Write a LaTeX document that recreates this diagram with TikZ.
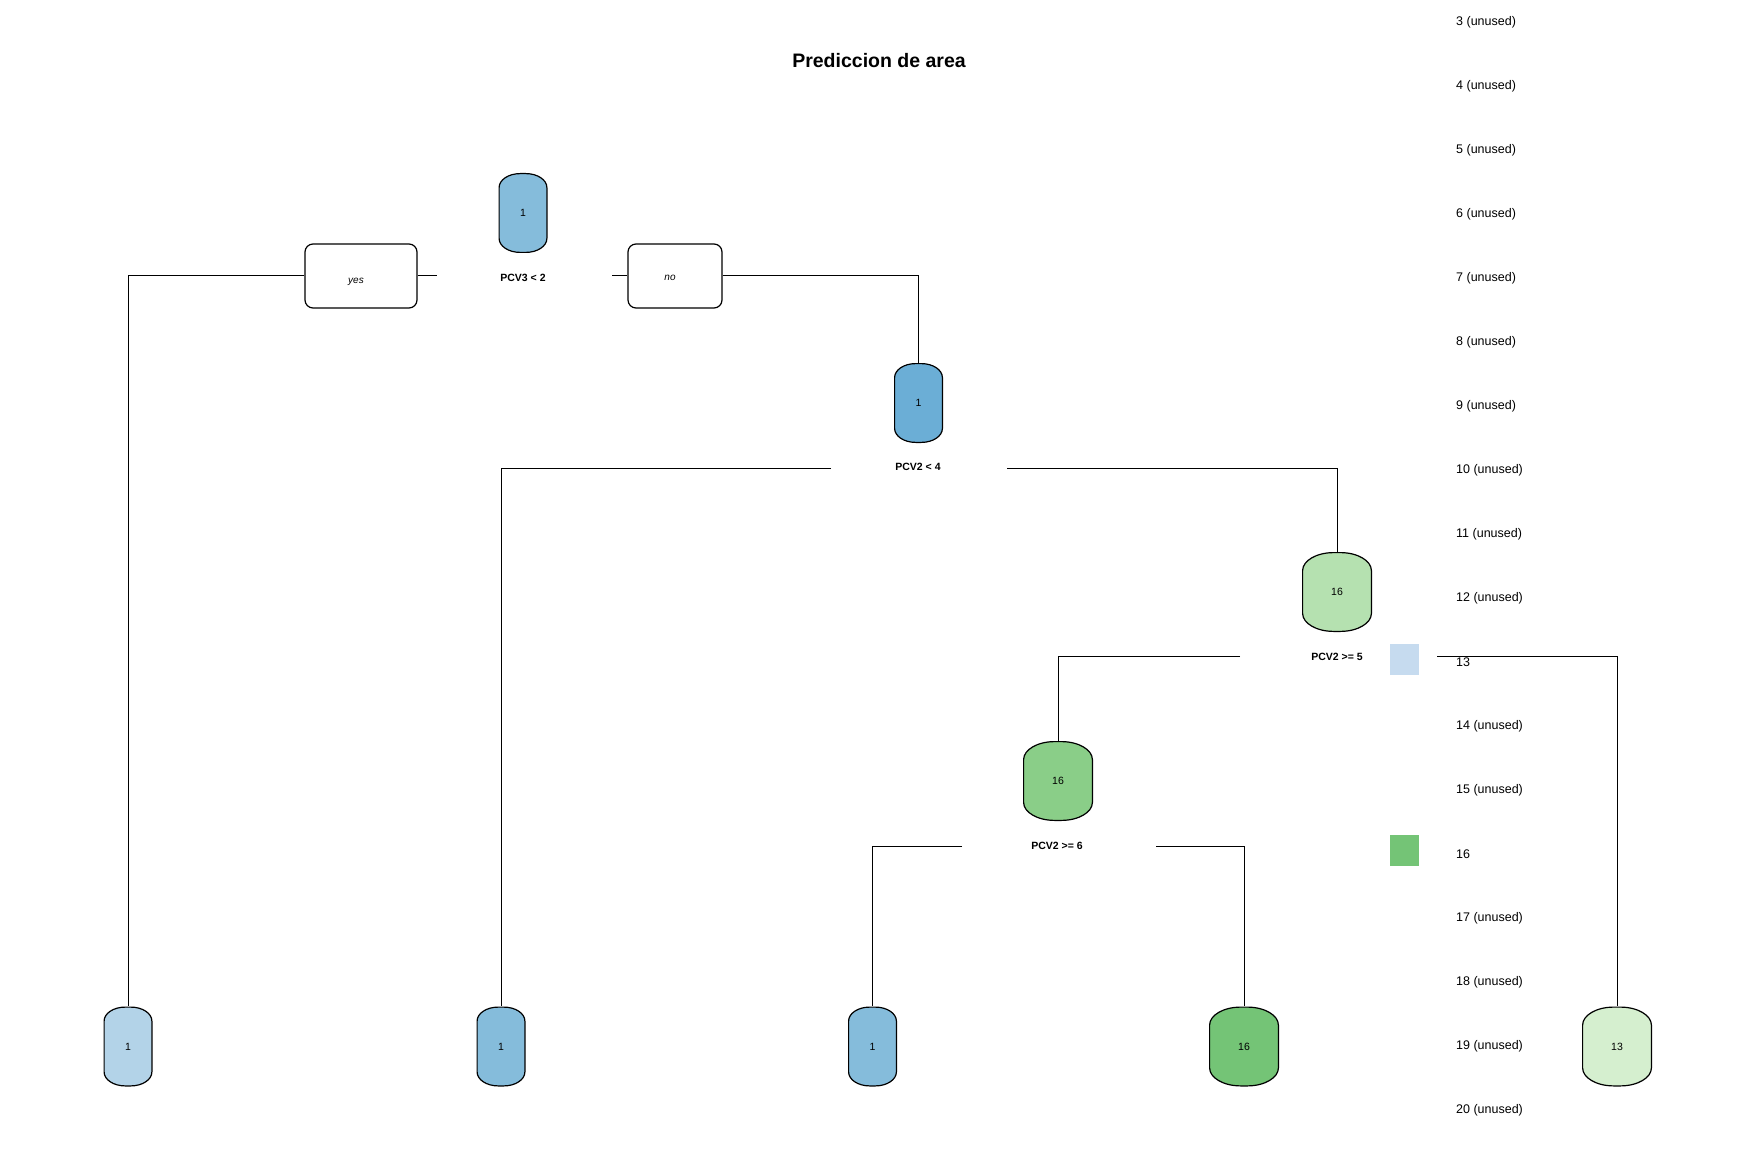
\documentclass[tikz,border=0pt]{standalone}
\usepackage{fontspec}
\setmainfont{Liberation Sans}
\definecolor{cBlueL}{HTML}{B3D3E8}
\definecolor{cBlueM}{HTML}{85BCDB}
\definecolor{cBlueD}{HTML}{6BAED6}
\definecolor{cBlueLeg}{HTML}{C6DBEF}
\definecolor{cGreenL}{HTML}{B5E1B0}
\definecolor{cGreenM}{HTML}{8ACE88}
\definecolor{cGreenD}{HTML}{74C476}
\definecolor{cGreenVL}{HTML}{D5EFCF}
\newcommand\mypillpath[2]{%
 ([shift={(0.6pt,-0.6pt-#2)}]path picture bounding box.north west)
 arc[start angle=180,end angle=90,x radius=#1,y radius=#2]
 -- ([shift={(-0.6pt-#1,-0.6pt)}]path picture bounding box.north east)
 arc[start angle=90,end angle=0,x radius=#1,y radius=#2]
 -- ([shift={(-0.6pt,0.6pt+#2)}]path picture bounding box.south east)
 arc[start angle=0,end angle=-90,x radius=#1,y radius=#2]
 -- ([shift={(0.6pt+#1,0.6pt)}]path picture bounding box.south west)
 arc[start angle=-90,end angle=-180,x radius=#1,y radius=#2] -- cycle}
\tikzset{
  pill/.style={minimum width=49pt, minimum height=80pt, inner sep=0pt,
    font=\fontsize{10.5}{12}\selectfont,
    path picture={\fill[#1] \mypillpath{21pt}{14pt}; \draw[line width=1.2pt] \mypillpath{21pt}{14pt};}},
  widepill/.style={minimum width=70pt, minimum height=80pt, inner sep=0pt,
    font=\fontsize{10.5}{12}\selectfont,
    path picture={\fill[#1] \mypillpath{31pt}{18pt}; \draw[line width=1.2pt] \mypillpath{31pt}{18pt};}},
  lbl/.style={inner sep=0pt, font=\fontsize{10.5}{12}\selectfont\bfseries},
  ynbox/.style={draw, line width=1.2pt, rounded corners=8pt, inner sep=0pt},
  yntext/.style={inner sep=0pt, font=\fontsize{10}{12}\selectfont\itshape},
  legtxt/.style={anchor=west, inner sep=0pt, font=\fontsize{12.5}{14}\selectfont},
  legsq/.style={minimum width=29pt, minimum height=31pt, inner sep=0pt},
  conn/.style={line width=1pt},
  titlestyle/.style={inner sep=0pt, font=\fontsize{19.5}{22}\selectfont\bfseries}
}
\begin{document}
\begin{tikzpicture}[x=1pt,y=-1pt]
\useasboundingbox (0,0) rectangle (1758,1155);
\node[titlestyle] (title) at (879,61) {Prediccion de area};
% internal nodes
\node[pill=cBlueM] (n1) at (523,213) {1};
\node[lbl] (l1) at (523,278) {PCV3 < 2};
\node[pill=cBlueD] (n2) at (918.5,403) {1};
\node[lbl] (l2) at (918,467) {PCV2 < 4};
\node[widepill=cGreenL] (n3) at (1337,592) {16};
\node[lbl] (l3) at (1337,657) {PCV2 >= 5};
\node[widepill=cGreenM] (n4) at (1058,781) {16};
\node[lbl] (l4) at (1057,846) {PCV2 >= 6};
% leaves
\node[pill=cBlueL] (lf1) at (128,1046.5) {1};
\node[pill=cBlueM] (lf2) at (501,1046.5) {1};
\node[pill=cBlueM] (lf3) at (872.5,1046.5) {1};
\node[widepill=cGreenD] (lf4) at (1244,1046.5) {16};
\node[widepill=cGreenVL] (lf5) at (1617,1046.5) {13};
% yes / no
\node[ynbox, minimum width=112pt, minimum height=64pt] (yes) at (361,276) {};
\node[yntext] (yest) at (356,282) {yes};
\node[ynbox, minimum width=94pt, minimum height=64pt] (no) at (675,276) {};
\node[yntext] (not) at (670,278) {no};
% free ends
\coordinate (c1) at (437,276);
\coordinate (c2) at (612,276);
\coordinate (c3) at (831,468);
\coordinate (c4) at (1007,468);
\coordinate (c5) at (1240,656);
\coordinate (c6) at (1437,656);
\coordinate (c7) at (962,846);
\coordinate (c8) at (1156,846);
% connectors
\draw[conn] (yes.west) -| (lf1.north);
\draw[conn] (yes.east) -- (c1);
\draw[conn] (c2) -- (no.west);
\draw[conn] (no.east) -| (n2.north);
\draw[conn] (c3) -| (lf2.north);
\draw[conn] (c4) -| (n3.north);
\draw[conn] (c5) -| (n4.north);
\draw[conn] (c6) -| (lf5.north);
\draw[conn] (c7) -| (lf3.north);
\draw[conn] (c8) -| (lf4.north);
% legend
\node[legsq, fill=cBlueLeg] (sq1) at (1404.5,659.5) {};
\node[legsq, fill=cGreenD] (sq2) at (1404.5,850.5) {};
\foreach \k in {3,4,5,6,7,8,9,10,11,12,14,15,17,18,19,20} {
  \node[legtxt] (t\k) at (1456,{22+64*(\k-3)}) {\k\ (unused)};
}
\node[legtxt] (t13) at (1456,662) {13};
\node[legtxt] (t16) at (1456,854) {16};
\end{tikzpicture}
\end{document}
